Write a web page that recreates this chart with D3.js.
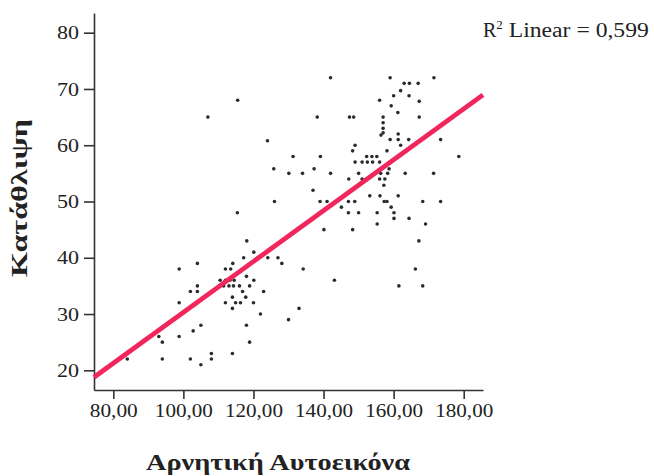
<!DOCTYPE html>
<html>
<head>
<meta charset="utf-8">
<script src="https://cdn.jsdelivr.net/npm/d3@7"></script>
<style>
  html, body { margin: 0; padding: 0; background: #fff; }
  svg { display: block; }
  text { font-family: "Liberation Serif", "Times New Roman", serif; fill: #222; }
</style>
</head>
<body>
<svg id="chart" width="654" height="476"></svg>
<script>
// Data: Αρνητική Αυτοεικόνα (x) vs Κατάθλιψη (y)
const xValues = [
  142,159,171.5,163,164.5,167,162,160,164.4,167.3,156,115.5,159.3,161.2,107,138.2,147.4,148.6,157,167.3,
  157,157,157,156.4,161.3,124,159,161.3,164.3,173.4,149,162,
  148.3,158.1,131.3,139.1,152.3,153.8,155.2,178.6,149,151,152.5,154,156,125.8,137.3,158.7,130.1,134,
  142,150,156.3,158.3,163.3,171.4,147.2,151,156,157.5,157.2,137,153.2,156.1,161.3,126,139,141,147.1,148.9,
  157.3,158.1,168.3,173.4,
  145.1,159.3,147.1,150,155.3,160.1,115.4,160.1,164.4,155.3,169.1,140.1,148.3,118.1,167.2,120.1,117.2,124.1,127,
  128.1,104,114.1,98.8,112,113.5,134.2,166.2,118,110.5,112,113.3,114.5,120.1,143.1,104,111.5,113,114.3,116,
  118.9,161.5,168.3,102,104,116.9,122.9,114,117.8,98.8,112,114.9,116.3,120,114,133,
  122,130,105,118,102.8,93,98.8,94,118.9,108,114,108,84,94,102,105
];
const yValues = [
  72,72,72,71,71,71,69.7,68.8,68.8,67.8,68,68,67,65.8,65,65,65,65,65,65,
  64,63,62.2,61.8,62,60.8,61,61,61,61,60,60,
  59,59,58,58,58,58,58,58,57,57,57,57,57,55.8,55.8,55.8,55,55,
  55,55,55,55,55,55,54,54,54,54,52.9,52,51,51,51,50,50,50,50,50,
  50,50,50,50,
  49,49,48,48,48,48,48,47,47,46,46,45,45,43,43,41,40,40,40,
  39,39,39,38,38,38,38,38,36.7,36,36,36,36,36,36,35,35,35,35,35,
  35,35,35,34,34,34,34,33,33,32,32,32,32,32,31,31,
  30,29,28,28,27,26,26,25,25,23,23,22,22,22,22,21
];
const xTicks = [80, 100, 120, 140, 160, 180];
const yTicks = [20, 30, 40, 50, 60, 70, 80];
const xDomain = [74.5, 185.5];
const yDomain = [16.5, 83.5];
// Linear fit line
const fitIntercept = -14.9;
const fitSlope = 0.452;
const r2Text = "0,599";
const xTitle = "Αρνητική Αυτοεικόνα";
const yTitle = "Κατάθλιψη";

const points = xValues.map((x, i) => ({ x, y: yValues[i] }));

const svg = d3.select("#chart");
svg.append("rect").attr("width", 654).attr("height", 476).attr("fill", "#fff");

const x = d3.scaleLinear().domain(xDomain).range([94, 483]);
const y = d3.scaleLinear().domain(yDomain).range([390, 13]);

const fmt = d => d3.format(".2f")(d).replace(".", ",");

// X axis
const xAxis = svg.append("g").attr("transform", "translate(0,390)")
  .call(d3.axisBottom(x).tickValues(xTicks).tickFormat(fmt).tickSize(9).tickSizeOuter(0));
xAxis.select(".domain").attr("stroke", "#333").attr("stroke-width", 1.6);
xAxis.selectAll(".tick line").attr("stroke", "#333").attr("stroke-width", 1.6);
xAxis.selectAll(".tick text").attr("font-size", 19).attr("dy", "0.95em").attr("y", 9)
  .style("font-family", "'Liberation Serif', serif").attr("fill", "#222")
  .attr("textLength", d => fmt(d).length >= 6 ? 58 : 48).attr("lengthAdjust", "spacingAndGlyphs");

// Y axis
const yAxis = svg.append("g").attr("transform", "translate(94,0)")
  .call(d3.axisLeft(y).tickValues(yTicks).tickFormat(d3.format("d")).tickSize(10).tickSizeOuter(0));
yAxis.select(".domain").attr("stroke", "#333").attr("stroke-width", 1.6);
yAxis.selectAll(".tick line").attr("stroke", "#333").attr("stroke-width", 1.6);
yAxis.selectAll(".tick text").attr("font-size", 19).attr("x", -15)
  .style("font-family", "'Liberation Serif', serif").attr("fill", "#222")
  .attr("textLength", 22).attr("lengthAdjust", "spacingAndGlyphs");

// Points
svg.append("g").selectAll("circle").data(points).join("circle")
  .attr("cx", d => x(d.x)).attr("cy", d => y(d.y))
  .attr("r", 1.8).attr("fill", "#2b2b2b");

// Fit line
svg.append("line")
  .attr("x1", x(xDomain[0])).attr("y1", y(fitIntercept + fitSlope * xDomain[0]))
  .attr("x2", x(xDomain[1])).attr("y2", y(fitIntercept + fitSlope * xDomain[1]))
  .attr("stroke", "#f0265c").attr("stroke-width", 4.8).attr("stroke-linecap", "butt");

// R² label
const r2 = svg.append("text").attr("x", 483).attr("y", 37).attr("font-size", 20).attr("fill", "#222");
r2.append("tspan").text("R");
r2.append("tspan").attr("font-size", 13).attr("dy", -8).text("2");
r2.append("tspan").attr("dy", 8).text(" Linear = " + r2Text)
  .attr("textLength", 146).attr("lengthAdjust", "spacingAndGlyphs");

// Titles
svg.append("text").attr("x", 278).attr("y", 470).attr("text-anchor", "middle")
  .attr("font-size", 24).attr("font-weight", "bold")
  .attr("textLength", 264).attr("lengthAdjust", "spacingAndGlyphs").text(xTitle);
svg.append("text").attr("transform", "translate(27,198) rotate(-90)").attr("text-anchor", "middle")
  .attr("font-size", 24).attr("font-weight", "bold")
  .attr("textLength", 158).attr("lengthAdjust", "spacingAndGlyphs").text(yTitle);
</script>
</body>
</html>
